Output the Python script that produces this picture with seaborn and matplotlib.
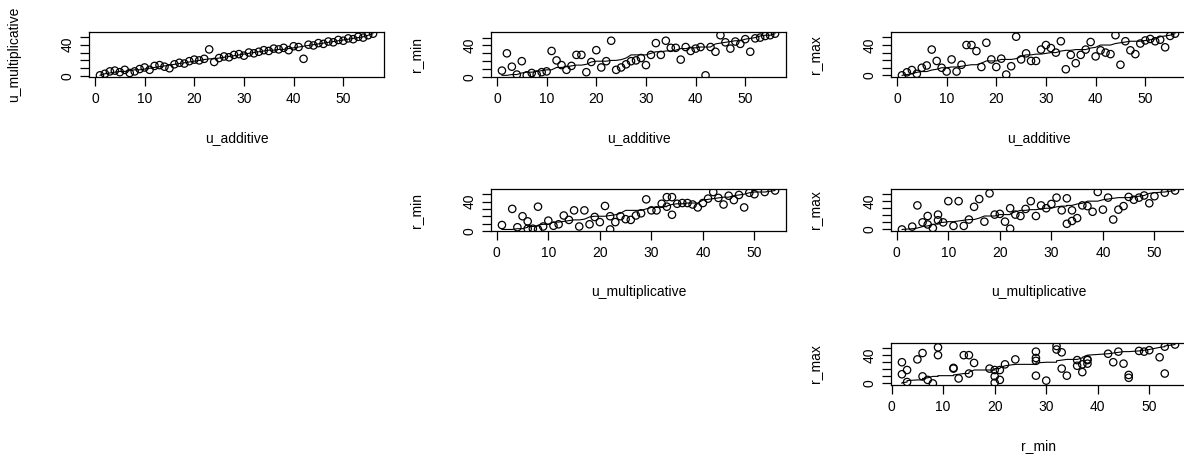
import numpy as np
import pandas as pd
import seaborn as sns
import matplotlib
matplotlib.use("Agg")
import matplotlib.pyplot as plt

# Setup style
sns.set_theme(style="ticks")
plt.rcParams['font.family'] = ['Liberation Sans', 'DejaVu Sans']

# --- Data ---
u_additive = [1, 2, 3, 4, 5, 6, 7, 8, 9, 10, 11, 12, 13, 14, 15, 16, 17, 18, 19, 20,
              21, 22, 23, 24, 25, 26, 27, 28, 29, 30, 31, 32, 33, 34, 35, 36, 37, 38, 39, 40,
              41, 42, 43, 44, 45, 46, 47, 48, 49, 50, 51, 52, 53, 54, 55, 56]
u_multiplicative = [1, 3, 6, 7, 5, 8, 4, 6, 9, 11, 8, 13, 14, 12, 10, 15, 17, 16, 19, 21,
                    20, 22, 34, 18, 23, 25, 24, 27, 28, 26, 30, 29, 31, 33, 32, 35, 34, 36, 33, 38,
                    37, 22, 40, 39, 42, 41, 44, 43, 46, 45, 48, 47, 50, 49, 52, 54]
r_min = [8, 30, 13, 3, 20, 2, 5, 3, 6, 7, 33, 21, 15, 9, 14, 28, 28, 6, 19, 34,
         12, 20, 46, 9, 12, 16, 20, 21, 24, 15, 28, 43, 28, 46, 37, 37, 22, 38, 33, 36,
         38, 2, 38, 32, 53, 44, 36, 45, 42, 48, 32, 49, 50, 52, 53, 55]
r_max = [0, 4, 7, 2, 10, 13, 34, 19, 10, 5, 21, 5, 14, 40, 40, 32, 11, 43, 21, 11,
         22, 1, 12, 51, 21, 29, 19, 19, 34, 40, 36, 30, 45, 8, 27, 16, 27, 34, 44, 25,
         33, 30, 28, 53, 14, 45, 33, 28, 42, 46, 48, 45, 47, 37, 52, 55]

df = pd.DataFrame({'u_additive': u_additive, 'u_multiplicative': u_multiplicative,
                   'r_min': r_min, 'r_max': r_max})

# (x variable, y variable, row, col)
PANELS = [('u_additive', 'u_multiplicative', 0, 0),
          ('u_additive', 'r_min', 0, 1),
          ('u_additive', 'r_max', 0, 2),
          ('u_multiplicative', 'r_min', 1, 1),
          ('u_multiplicative', 'r_max', 1, 2),
          ('r_min', 'r_max', 2, 2)]

W, H = 1184, 470
ROW_TOP = [32, 189, 343]
ROW_H = [45, 42, 42]
COL_LEFT = [89, 491, 891]
BOX_W = 295
FS = 10


def r_lim(v):
    lo, hi = min(v), max(v)
    pad = 0.04 * (hi - lo)
    return lo - pad, hi + pad


fig = plt.figure(figsize=(W / 100, H / 100), dpi=100)

for xv, yv, r, c in PANELS:
    top, h, left = ROW_TOP[r], ROW_H[r], COL_LEFT[c]
    ax = fig.add_axes([left / W, 1 - (top + h) / H, BOX_W / W, h / H])
    sns.scatterplot(data=df, x=xv, y=yv, ax=ax, s=28, facecolor='none',
                    edgecolor='black', linewidth=0.9)
    # reference line: sorted x against sorted y
    line_df = pd.DataFrame({'x': np.sort(df[xv].values), 'y': np.sort(df[yv].values)})
    sns.lineplot(data=line_df, x='x', y='y', ax=ax, color='black', linewidth=0.8,
                 estimator=None, sort=False)
    ax.set_xlim(*r_lim(df[xv]))
    ax.set_ylim(*r_lim(df[yv]))
    ax.set_xticks([0, 10, 20, 30, 40, 50])
    ax.set_yticks([0, 10, 20, 30, 40, 50])
    ax.set_yticklabels(['0', '', '', '', '40', ''], rotation=90, va='center')
    ax.tick_params(axis='both', direction='out', length=6.5, width=0.9,
                   color='black', labelsize=FS, labelcolor='black', pad=4)
    for sp in ax.spines.values():
        sp.set_linewidth(0.9)
        sp.set_color('black')
    ax.set_xlabel(xv, fontsize=FS, color='black')
    ax.set_ylabel(yv, fontsize=FS, color='black')
    ax.xaxis.set_label_coords(0.5, -61 / h)
    ax.xaxis.label.set_va('center')
    ax.yaxis.set_label_coords(-75 / BOX_W, 0.5)
    ax.yaxis.label.set_va('center')
    ax.grid(False)

fig.savefig('out.png', dpi=100, facecolor='white')
